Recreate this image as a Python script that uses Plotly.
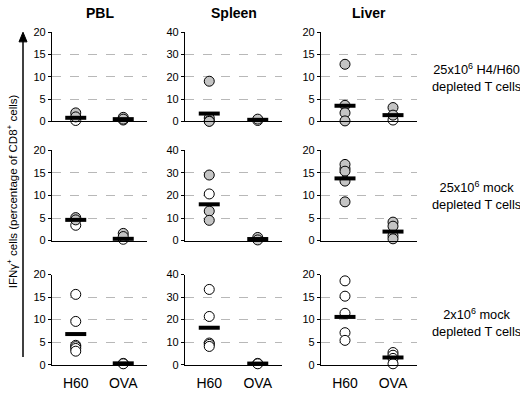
import plotly.graph_objects as go

tissues = ["PBL", "Spleen", "Liver"]
antigens = ["H60", "OVA"]
groups = ["25x10<sup>6</sup> H4/H60<br>depleted T cells",
          "25x10<sup>6</sup> mock<br>depleted T cells",
          "2x10<sup>6</sup> mock<br>depleted T cells"]
y_max = [20, 40, 20]
y_dtick = [5, 10, 5]

# [row][col] values
h60_filled = [[[1.9, 1.0], [18.0, 1.5, 0.2, 0.0], [12.8, 3.6, 1.9, 0.1]],
              [[5.1, 4.6], [29.1, 13.1, 9.0], [16.9, 15.4, 13.2, 8.6]],
              [[], [], []]]
h60_open = [[[0.2], [], []],
            [[3.4], [20.7], [16.0]],
            [[15.6, 9.6, 4.3, 4.0, 3.6, 3.0], [33.4, 21.4, 9.6, 9.0, 8.1], [18.6, 15.2, 11.4, 7.1, 5.4]]]
ova_filled = [[[0.9, 0.5], [1.0], [3.1, 1.4]],
              [[1.6, 0.9], [1.4, 0.3], [4.1, 3.2, 1.1, 0.4]],
              [[], [], []]]
ova_open = [[[0.3], [0.4], [0.3]],
            [[0.3], [], []],
            [[0.3, 0.2], [0.6, 0.4], [2.7, 2.1, 1.4, 0.2]]]
h60_mean = [[0.8, 3.5, 3.5], [4.6, 16.1, 13.8], [6.8, 16.4, 10.6]]
ova_mean = [[0.5, 0.7, 1.4], [0.4, 0.7, 2.0], [0.3, 0.5, 1.6]]

W, H = 520, 393
col_px = [(52, 147), (185, 282), (321, 417)]
row_px = [(27, 119), (149, 242), (277, 370)]
label_y_px = [74, 195, 326]

FONT = "Liberation Sans, Arial, sans-serif"
fig = go.Figure()
layout = dict(width=W, height=H, margin=dict(l=0, r=0, t=0, b=0),
              plot_bgcolor="white", paper_bgcolor="white", showlegend=False,
              font=dict(family=FONT, color="black"))

gray = "#c4c4c4"
idx = 0
for r in range(3):
    for c in range(3):
        idx += 1
        xa = "x" if idx == 1 else f"x{idx}"
        ya = "y" if idx == 1 else f"y{idx}"
        x0, x1 = col_px[c]
        yt, yb = row_px[r]
        layout["xaxis" if idx == 1 else f"xaxis{idx}"] = dict(
            domain=[x0 / W, x1 / W], range=[-0.5, 1.5], anchor=ya,
            tickvals=[0, 1], ticktext=antigens, ticklabelstandoff=5,
            showticklabels=(r == 2), ticks="", showgrid=False, zeroline=False,
            showline=True, linecolor="black", linewidth=1.2,
            tickfont=dict(size=14, family=FONT, color="black"), fixedrange=True)
        layout["yaxis" if idx == 1 else f"yaxis{idx}"] = dict(
            domain=[1 - yb / H, 1 - yt / H], range=[0, y_max[c]], anchor=xa,
            dtick=y_dtick[c], tick0=0, ticks="outside", ticklen=3, tickcolor="black",
            showgrid=True, gridcolor="#b8b8b8", griddash="dash", gridwidth=1,
            zeroline=False, showline=True, linecolor="black", linewidth=1.2,
            tickfont=dict(size=11, family=FONT, color="black"), fixedrange=True)
        for xi, filled, opn, mean in ((0, h60_filled, h60_open, h60_mean),
                                      (1, ova_filled, ova_open, ova_mean)):
            for vals, fc in ((opn[r][c], "white"), (filled[r][c], gray)):
                if vals:
                    fig.add_trace(go.Scatter(
                        x=[xi] * len(vals), y=vals,
                        xaxis=xa, yaxis=ya, mode="markers", cliponaxis=False,
                        marker=dict(size=10, color=fc, line=dict(color="black", width=1))))
            fig.add_trace(go.Scatter(
                x=[xi], y=[mean[r][c]], xaxis=xa, yaxis=ya, mode="markers", cliponaxis=False,
                marker=dict(symbol="line-ew", size=15, line=dict(color="black", width=4))))

ann = []
for c in range(3):
    x0, x1 = col_px[c]
    ann.append(dict(x=(x0 + x1) / 2 / W, y=1 - 7 / H, xref="paper", yref="paper",
                    text=f"<b>{tissues[c]}</b>", showarrow=False,
                    font=dict(size=14, family=FONT), xanchor="center", yanchor="middle"))
for r in range(3):
    ann.append(dict(x=476 / W, y=1 - label_y_px[r] / H, xref="paper", yref="paper",
                    text=groups[r], showarrow=False, align="center",
                    font=dict(size=12.8, family=FONT), xanchor="center", yanchor="middle"))
ann.append(dict(x=12 / W, y=1 - 191 / H, xref="paper", yref="paper",
                text="IFNγ<sup>+</sup> cells (percentage of CD8<sup>+</sup> cells)",
                textangle=-90, showarrow=False, font=dict(size=11.5, family=FONT),
                xanchor="center", yanchor="middle"))
layout["annotations"] = ann
layout["shapes"] = [dict(type="line", xref="paper", yref="paper",
                         x0=23 / W, x1=23 / W, y0=1 - 362 / H, y1=1 - 34 / H,
                         line=dict(color="black", width=1.5)),
                    dict(type="path", xref="paper", yref="paper",
                         path=f"M {19 / W} {1 - 37 / H} L {27 / W} {1 - 37 / H} L {23 / W} {1 - 27 / H} Z",
                         fillcolor="black", line=dict(color="black", width=1))]
fig.update_layout(**layout)
fig.write_html("out.html", config={"displayModeBar": False},
               post_script="document.body.style.margin='0px';")
